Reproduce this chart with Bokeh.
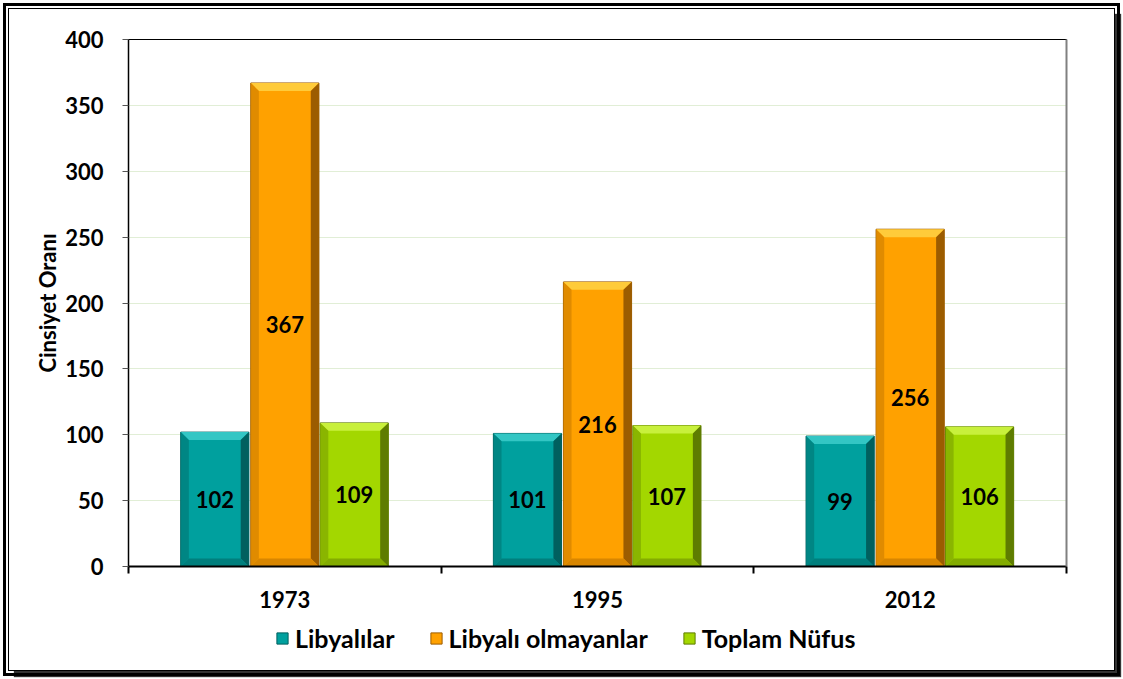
from bokeh.plotting import figure
from bokeh.models import (Range1d, FixedTicker, LinearAxis, Legend, LegendItem,
                          ColumnDataSource, LabelSet, SingleIntervalTicker)
from bokeh.layouts import column
from bokeh.core.properties import value
from bokeh.embed import file_html
from bokeh.resources import INLINE

# ---- data ----
years = ["1973", "1995", "2012"]
series_names = ["Libyalılar", "Libyalı olmayanlar", "Toplam Nüfus"]
libyan = [102, 101, 99]
non_libyan = [367, 216, 256]
total = [109, 107, 106]
y_label = "Cinsiyet Oranı"

series_values = [libyan, non_libyan, total]

# ---- styles ----
colors = ["#00A09E", "#FFA100", "#A3D700"]
light = ["#33C6C4", "#FFCB3A", "#C8F03C"]
dark = ["#00605F", "#9C5C00", "#5E7C00"]
mid_dark = ["#007F7D", "#D88600", "#83AC00"]
offsets = [-0.224, 0.0, 0.222]
bar_w = 0.218
FONT = "Lato"

W = 1105
H_MAIN, H_LEG = 612, 49

p = figure(width=W, height=H_MAIN, output_backend="svg", toolbar_location=None,
           x_range=Range1d(-0.5, 2.5), y_range=Range1d(0, 400),
           min_border_left=119, min_border_top=30, min_border_right=48,
           min_border_bottom=55)

p.outline_line_color = "black"
p.outline_line_width = 1
p.background_fill_color = "white"
p.border_fill_color = "white"

p.xgrid.grid_line_color = None
p.ygrid.grid_line_color = "#E1EED6"
p.ygrid.grid_line_width = 1

# x axis
p.xaxis.ticker = FixedTicker(ticks=[0, 1, 2], minor_ticks=[-0.5, 0.5, 1.5, 2.5])
p.xaxis.major_label_overrides = {i: y for i, y in enumerate(years)}
p.xaxis.major_tick_out = 0
p.xaxis.major_tick_in = 0
p.xaxis.minor_tick_out = 7
p.xaxis.minor_tick_in = 0
p.xaxis.minor_tick_line_color = "black"
p.xaxis.minor_tick_line_width = 2
p.xaxis.axis_line_color = "black"
p.xaxis.axis_line_width = 2
p.xaxis.major_label_text_font = FONT
p.xaxis.major_label_text_font_style = "bold"
p.xaxis.major_label_text_font_size = "22px"
p.xaxis.major_label_text_color = "black"
p.xaxis.major_label_standoff = 17

# y axis
p.yaxis.ticker = SingleIntervalTicker(interval=50, num_minor_ticks=0)
p.yaxis.major_tick_out = 6
p.yaxis.major_tick_in = 0
p.yaxis.major_tick_line_color = "#555555"
p.yaxis.minor_tick_line_color = None
p.yaxis.axis_line_color = "black"
p.yaxis.axis_line_width = 1.5
p.yaxis.major_label_text_font = FONT
p.yaxis.major_label_text_font_style = "bold"
p.yaxis.major_label_text_font_size = "22px"
p.yaxis.major_label_text_color = "black"
p.yaxis.major_label_standoff = 19
p.yaxis.axis_label = y_label
p.yaxis.axis_label_text_font = FONT
p.yaxis.axis_label_text_font_style = "bold"
p.yaxis.axis_label_text_font_size = "22px"
p.yaxis.axis_label_text_color = "black"
p.yaxis.axis_label_standoff = 1

# right frame line (gray)
raxis = LinearAxis(axis_line_color="#808080", axis_line_width=2,
                   ticker=FixedTicker(ticks=[]),
                   major_tick_line_color=None, minor_tick_line_color=None)
p.add_layout(raxis, "right")

# ---- bars ----
bx = 0.026   # bevel width (x units)
by = 6.0     # bevel height (y units)
for si, vals in enumerate(series_values):
    xs = [j + offsets[si] for j in range(len(years))]
    src = ColumnDataSource(dict(x=xs, top=vals, mid=[v / 2 for v in vals],
                                txt=[str(v) for v in vals]))
    p.vbar(x="x", top="top", bottom=0, width=bar_w, source=src,
           fill_color=colors[si], line_color=dark[si], line_width=1)
    top_x, top_y, rt_x, rt_y, lf_x, lf_y, bt_x, bt_y = [], [], [], [], [], [], [], []
    for x, v in zip(xs, vals):
        xl, xr = x - bar_w / 2, x + bar_w / 2
        top_x.append([xl, xr, xr - bx, xl + bx]); top_y.append([v, v, v - by, v - by])
        rt_x.append([xr, xr, xr - bx, xr - bx]); rt_y.append([v, 0, by, v - by])
        lf_x.append([xl, xl, xl + bx, xl + bx]); lf_y.append([v, 0, by, v - by])
        bt_x.append([xl, xr, xr - bx, xl + bx]); bt_y.append([0, 0, by, by])
    p.patches(top_x, top_y, fill_color=light[si], line_color=None)
    p.patches(lf_x, lf_y, fill_color=mid_dark[si], line_color=None, fill_alpha=0.8)
    p.patches(rt_x, rt_y, fill_color=dark[si], line_color=None)
    p.patches(bt_x, bt_y, fill_color=mid_dark[si], line_color=None)
    labels = LabelSet(x="x", y="mid", text="txt", source=src,
                      text_align="center", text_baseline="middle",
                      text_font=value(FONT), text_font_style="bold",
                      text_font_size="22px", text_color="black")
    p.add_layout(labels)

# ---- legend strip ----
p2 = figure(width=W, height=H_LEG, output_backend="svg", toolbar_location=None,
            x_range=Range1d(0, 1), y_range=Range1d(0, 1),
            min_border_left=0, min_border_right=0, min_border_top=0, min_border_bottom=0)
p2.axis.visible = False
p2.grid.visible = False
p2.outline_line_color = None
p2.background_fill_color = "white"
p2.border_fill_color = "white"
leg_renderers = []
for si, name in enumerate(series_names):
    # legend swatch only (placed outside the visible range)
    r = p2.vbar(x=[5], top=[0], width=0.1, fill_color=colors[si], line_color=dark[si])
    leg_renderers.append(r)
legend = Legend(items=[LegendItem(label=n, renderers=[r]) for n, r in zip(series_names, leg_renderers)],
                orientation="horizontal", location=(147, 17),
                label_text_font=FONT, label_text_font_style="bold",
                label_text_font_size="25px", label_text_color="black",
                glyph_width=14, glyph_height=14, label_standoff=6, spacing=34,
                padding=2, margin=0, border_line_color=None,
                background_fill_alpha=0)
p2.add_layout(legend, "center")

layout = column(p, p2, spacing=0)
layout.styles = {"margin-left": "8px", "margin-top": "8px",
                 "border": "1px solid black", "outline": "3px solid black",
                 "outline-offset": "2px", "box-shadow": "6px 6px 1px #333"}

open("out.html", "w").write(file_html(layout, INLINE))
